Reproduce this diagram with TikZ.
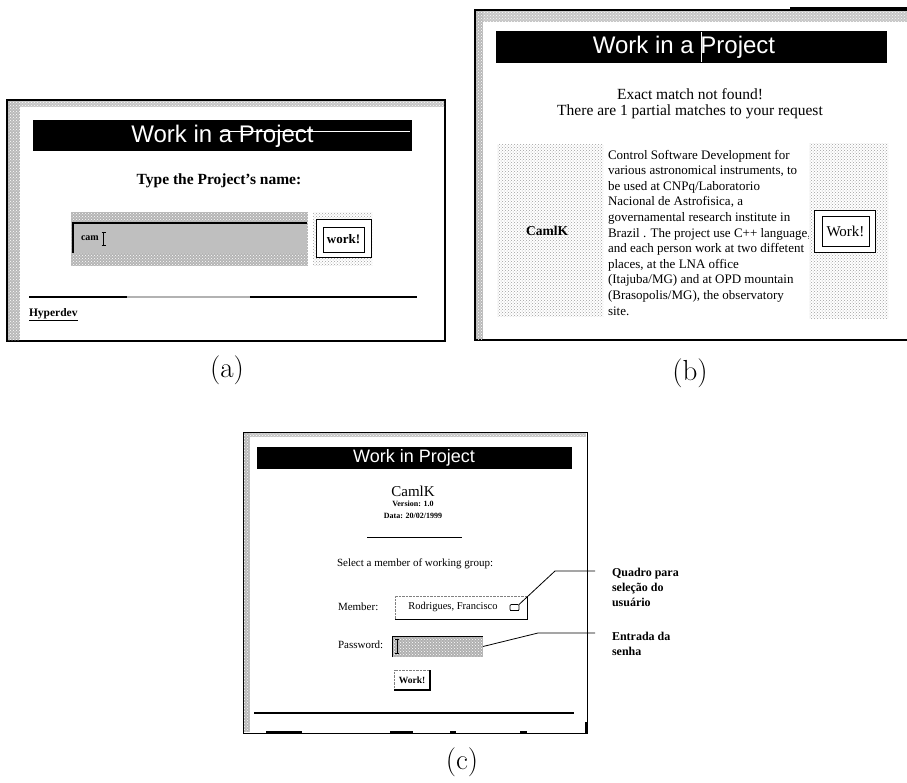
\documentclass[tikz,border=0pt]{standalone}
\usepackage{fontspec}
\newfontfamily\uiserif{Liberation Serif}
\newfontfamily\uisans{Liberation Sans}
\usetikzlibrary{patterns}

\begin{document}
\begin{tikzpicture}[x=1pt,y=-1pt,
  every node/.style={inner sep=0pt, outer sep=0pt},
  frame/.style={line width=1.3pt},
  grain/.style={fill=#1, postaction={pattern=crosshatch dots, pattern color=white}},
  dotty/.style={fill=white, postaction={pattern=crosshatch dots, pattern color=gray!75}},
  titlebar/.style={fill=black},
  titletext/.style={text=white, font=\uisans\fontsize{#1}{#1}\selectfont},
  caption/.style={font=\fontsize{29}{34}\selectfont},
  ui/.style={font=\uiserif\fontsize{#1}{#1}\selectfont},
  uib/.style={font=\uiserif\bfseries\fontsize{#1}{#1}\selectfont},
  callout/.style={line width=0.8pt},
]
\useasboundingbox (0,0) rectangle (907,782);

% ---------------- (a) project name form ----------------
\draw[frame, fill=white] (7,100) rectangle (445,341);
\fill[grain=gray!55] (8,101) rectangle (20,340);
\fill[grain=gray!45] (20,101) rectangle (444,107);
\draw[line width=2.5pt] (445,165) -- (445,190);
\fill[titlebar] (33,120) rectangle (412,151);
\node[titletext=24] (ta) at (222.5,136) {Work in a Project};
\draw[white, line width=0.5pt] (220,131.5) -- (410,131.5);
\node[uib=15.5] (qa) at (219,181) {Type the Project’s name:};
% name field
\fill[grain=gray!58] (71,212) rectangle (308,266);
\node[fill=gray!50, minimum width=234pt, minimum height=30pt] (fa) at (190,238) {};
\draw[line width=1.3pt] (fa.south west) -- (fa.north west) -- (fa.north east);
\node[uib=10, anchor=west] (ca) at (81,238.5) {cam};
\draw[line width=0.9pt] (103.5,232) -- (103.5,245) (101.5,232) -- (105.5,232) (101.5,245) -- (105.5,245);
% work button
\fill[dotty] (313,212) rectangle (372,265);
\node[draw, fill=white, line width=0.6pt, minimum width=55pt, minimum height=38pt] (ba) at (343.5,238) {};
\node[draw, line width=1pt, minimum width=41pt, minimum height=25pt] (wa) at (343.5,239.5) {};
\node[uib=13] at (wa.center) {work!};
% footer
\draw[line width=1.3pt] (29,297) -- (417,297);
\draw[gray!60, line width=1.3pt] (127,297) -- (250,297);
\node[uib=11.5, anchor=west] (ha) at (29,315) {\underline{Hyperdev}};
\node[caption] (la) at (227,370) {(a)};

% ---------------- (b) search result ----------------
\fill[white] (475,10) rectangle (907,340);
\draw[frame] (907,10) -- (475,10) -- (475,340) -- (907,340);
\draw[line width=2.5pt] (790,8) -- (907,8);
\fill[grain=gray!55] (476,11) rectangle (483,339);
\fill[grain=gray!45] (483,11) rectangle (907,22);
\fill[titlebar] (496,31) rectangle (887,63);
\node[titletext=24] (tb) at (684,47.5) {Work in a Project};
\draw[white, line width=0.6pt] (701,32) -- (701,62);
\node[ui=15.5] (mb1) at (690,94) {Exact match not found!};
\node[ui=15.5] (mb2) at (690,112) {There are 1 partial matches to your request};
\fill[dotty] (497,144) rectangle (603,316);
\node[uib=13.5] (nb) at (547,231) {CamlK};
\foreach \t [count=\i from 0] in {
    Control Software Development for,
    {various astronomical instruments, to},
    be used at CNPq/Laboratorio,
    {Nacional de Astrofisica, a},
    governamental research institute in,
    {Brazil . The project use C++ language,},
    and each person work at two diffetent,
    {places, at the LNA office},
    (Itajuba/MG) and at OPD mountain,
    {(Brasopolis/MG), the observatory},
    site.}
  \node[ui=13, anchor=base west] (pb\i) at (608,{159+15.6*\i}) {\t};
\fill[dotty] (809,143) rectangle (888,318);
\node[draw, fill=white, line width=0.6pt, minimum width=61pt, minimum height=42pt] (bb) at (844.5,231) {};
\node[draw, line width=1pt, minimum width=47pt, minimum height=30pt] (wb) at (845.5,231) {};
\node[ui=15] at (wb.center) {Work!};
\node[caption] (lb) at (690,373) {(b)};

% ---------------- (c) member login ----------------
\fill[white] (243,432) rectangle (587,733);
\draw[line width=1pt] (243,432) rectangle (587,733);
\fill[grain=gray!55] (244,433) rectangle (250,732);
\fill[grain=gray!45] (250,433) rectangle (586,437);
\draw[line width=3pt] (586,722) -- (586,734);
\draw[line width=2.4pt] (266,732) -- (302,732) (390,732) -- (413,732) (450,732) -- (456,732) (520,732) -- (527,732);
\fill[titlebar] (257,447) rectangle (572,469);
\node[titletext=18] (tc) at (414,458) {Work in Project};
\node[ui=15] (nc) at (413,491) {CamlK};
\node[uib=8] (vc) at (413,504) {Version: 1.0};
\node[uib=8] (dc) at (413,515.5) {Data: 20/02/1999};
\draw[line width=1pt] (367,537) -- (462,537);
\node[ui=11, anchor=west] (sc) at (337,564) {Select a member of working group:};
\node[ui=11, anchor=west] (mc) at (338,607) {Member:};
\node[draw=gray, densely dotted, fill=white, minimum width=132pt, minimum height=23pt] (dd) at (461,607.5) {};
\draw[line width=1pt] (dd.south west) -- (dd.south east) -- (dd.north east);
\node[ui=10.5] (rc) at (453,607) {Rodrigues, Francisco};
\node[draw, fill=white, rounded corners=1pt, line width=0.7pt, minimum width=9pt, minimum height=6pt] (icon) at (514.5,607.5) {};
\draw[line width=1.4pt] (icon.south west) -- (icon.south east);
\node[ui=11, anchor=west] (pc) at (338,645) {Password:};
\node[grain=gray!62, minimum width=91pt, minimum height=21pt] (pw) at (437.5,646.5) {};
\draw[line width=1pt] (pw.south west) -- (pw.north west) -- (pw.north east);
\draw[line width=0.9pt] (397,639) -- (397,653) (395,639) -- (399,639) (395,653) -- (399,653);
\node[draw=gray, densely dotted, fill=white, minimum width=36pt, minimum height=20pt] (wc) at (412,680) {};
\draw[line width=1.2pt] (wc.south west) -- (wc.south east) -- (wc.north east);
\node[uib=9.5] at (wc.center) {Work!};
\draw[line width=1.2pt] (254,713) -- (574,713);

% callouts
\node[uib=12, anchor=north west, align=left] (qlabel) at (612,568) {Quadro para\\[3pt]seleção do\\[3pt]usuário};
\node[uib=12, anchor=north west, align=left] (elabel) at (612,632) {Entrada da\\[3pt]senha};
\coordinate (qbend) at (555,571);
\coordinate (qend) at (595,571);
\coordinate (ebend) at (538,633);
\coordinate (eend) at (595,633);
\draw[callout] (icon.north east) -- (qbend) -- (qend);
\draw[callout] (pw.east) -- (ebend) -- (eend);
\node[caption] (lc) at (462,762) {(c)};
\end{tikzpicture}
\end{document}
